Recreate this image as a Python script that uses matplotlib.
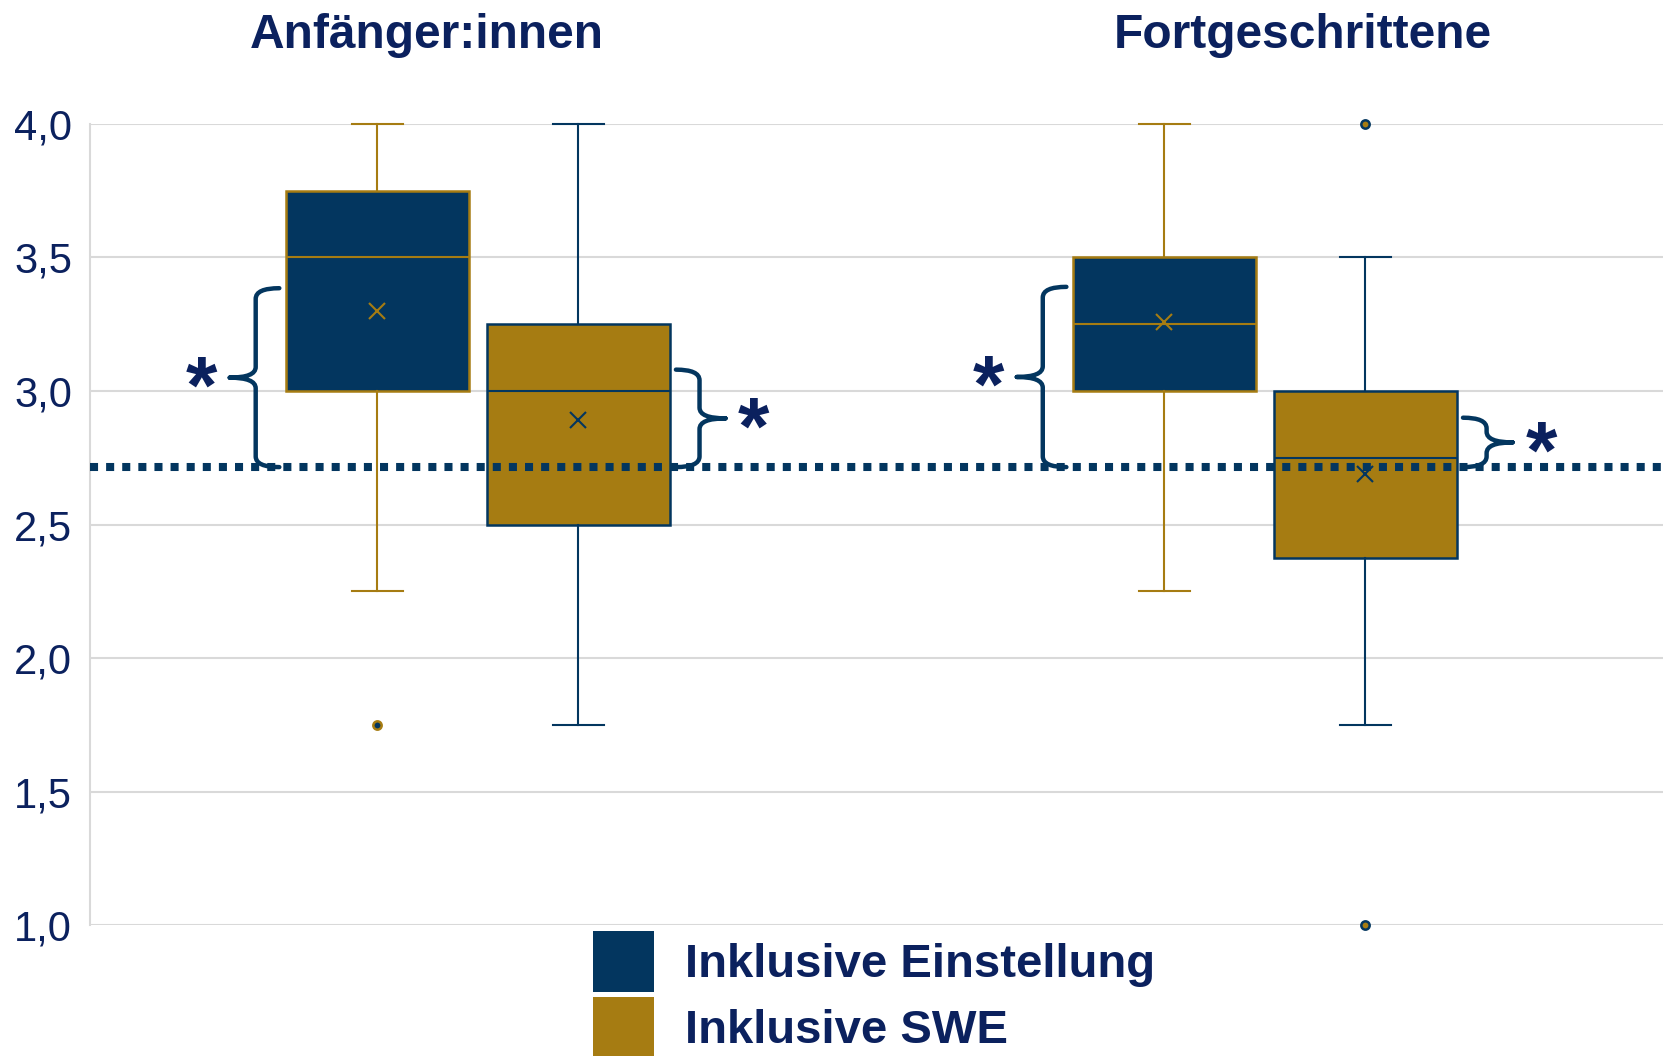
import matplotlib
matplotlib.use('Agg')
import matplotlib.pyplot as plt
from matplotlib.patches import Patch, PathPatch
from matplotlib.path import Path
from matplotlib.ticker import FuncFormatter

plt.rcParams['font.family'] = ['Liberation Sans', 'DejaVu Sans']

# data
groups = ['Anfänger:innen', 'Fortgeschrittene']
series = ['Inklusive Einstellung', 'Inklusive SWE']

einst_lo = [2.25, 2.25]
einst_q1 = [3.0, 3.0]
einst_med = [3.5, 3.25]
einst_q3 = [3.75, 3.5]
einst_hi = [4.0, 4.0]
einst_mean = [3.30, 3.26]
einst_fliers = [[1.75], []]

swe_lo = [1.75, 1.75]
swe_q1 = [2.5, 2.375]
swe_med = [3.0, 2.75]
swe_q3 = [3.25, 3.0]
swe_hi = [4.0, 3.5]
swe_mean = [2.89, 2.69]
swe_fliers = [[], [4.0, 1.0]]

ref_value = 2.715
brace_top_left = [3.385, 3.39]
brace_top_right = [3.08, 2.90]

BLUE = '#03365F'
GOLD = '#A67C12'
NAVY = '#0B215E'
GRID = '#D9D9D9'

offset = 0.1277
box_w = 0.2325


def make_stats(lo, q1, med, q3, hi, mean, fliers):
    return [dict(whislo=lo[i], q1=q1[i], med=med[i], q3=q3[i], whishi=hi[i],
                 mean=mean[i], fliers=fliers[i]) for i in range(len(lo))]


def draw_series(ax, stats, pos, face, edge):
    ax.bxp(stats, positions=pos, widths=box_w, capwidths=0.065,
           patch_artist=True, showmeans=True, manage_ticks=False,
           boxprops=dict(facecolor=face, edgecolor=edge, linewidth=1.8),
           whiskerprops=dict(color=edge, linewidth=1.5),
           capprops=dict(color=edge, linewidth=1.5),
           medianprops=dict(color=edge, linewidth=1.5),
           meanprops=dict(marker='x', markeredgecolor=edge, markersize=12,
                          markeredgewidth=1.5),
           flierprops=dict(marker='o', markerfacecolor=face, markeredgecolor=edge,
                           markersize=6, markeredgewidth=1.8),
           zorder=3)


def brace(ax, xv, y_top, y_bot, side):
    # side -1: tip to the left, +1: tip to the right
    dx_end = 0.030
    dx_tip = 0.033
    r = 0.04
    xe = xv - side * dx_end
    xt = xv + side * dx_tip
    ym = (y_top + y_bot) / 2
    verts = [(xe, y_top), (xv, y_top), (xv, y_top - r),
             (xv, ym + r), (xv, ym), (xt, ym),
             (xt, ym), (xv, ym), (xv, ym - r),
             (xv, y_bot + r), (xv, y_bot), (xe, y_bot)]
    codes = [Path.MOVETO, Path.CURVE3, Path.CURVE3,
             Path.LINETO, Path.CURVE3, Path.CURVE3,
             Path.MOVETO, Path.CURVE3, Path.CURVE3,
             Path.LINETO, Path.CURVE3, Path.CURVE3]
    ax.add_patch(PathPatch(Path(verts, codes), fill=False, edgecolor=BLUE,
                           linewidth=3.2, capstyle='round', zorder=5, clip_on=False))
    ax.text(xt + side * 0.036, ym - 0.13, '*', fontsize=58, fontweight='bold',
            color=NAVY, ha='center', va='baseline', zorder=6)


fig = plt.figure(figsize=(16.74, 10.56), dpi=100)
ax = fig.add_axes([0.0538, 0.124, 0.9396, 0.7586])

pos = list(range(len(groups)))
pos_einst = [p - offset for p in pos]
pos_swe = [p + offset for p in pos]

draw_series(ax, make_stats(einst_lo, einst_q1, einst_med, einst_q3, einst_hi,
                           einst_mean, einst_fliers), pos_einst, BLUE, GOLD)
draw_series(ax, make_stats(swe_lo, swe_q1, swe_med, swe_q3, swe_hi,
                           swe_mean, swe_fliers), pos_swe, GOLD, BLUE)

for a in ax.get_children():
    if hasattr(a, 'set_clip_on'):
        a.set_clip_on(False)

ax.axhline(ref_value, color=BLUE, linewidth=5.8, linestyle=(0, (1, 1)), zorder=4)

for i in range(len(groups)):
    brace(ax, pos_einst[i] - box_w / 2 - 0.038, brace_top_left[i], ref_value, -1)
    brace(ax, pos_swe[i] + box_w / 2 + 0.038, brace_top_right[i], ref_value, 1)

ax.set_xlim(-0.4924, 1.506)
ax.set_ylim(1.0, 4.0)
ax.set_yticks([1.0, 1.5, 2.0, 2.5, 3.0, 3.5, 4.0])
ax.yaxis.set_major_formatter(FuncFormatter(lambda v, p: f'{v:.1f}'.replace('.', ',')))
ax.tick_params(axis='y', length=0, pad=13, labelsize=30, labelcolor=NAVY)
ax.set_xticks([])
ax.grid(axis='y', color=GRID, linewidth=1.5, zorder=0)
ax.set_axisbelow(True)
for s in ['top', 'right', 'bottom']:
    ax.spines[s].set_visible(False)
ax.spines['left'].set_color(GRID)
ax.spines['left'].set_linewidth(1.5)

title_x = [-0.065, 1.048]
for i, g in enumerate(groups):
    ax.text(title_x[i], 4.285, g, fontsize=34.5, fontweight='bold', color=NAVY,
            ha='center', va='baseline', clip_on=False)

handles = [Patch(facecolor=BLUE, edgecolor='none'), Patch(facecolor=GOLD, edgecolor='none')]
fig.legend(handles, series, loc='upper left', bbox_to_anchor=(0.3542, 0.1184),
           frameon=False, borderpad=0, borderaxespad=0,
           handlelength=1.3, handleheight=1.62, handletextpad=0.64,
           labelspacing=0.1, labelcolor=NAVY, prop=dict(weight='bold', size=34))

fig.savefig('out.png', dpi=100)
